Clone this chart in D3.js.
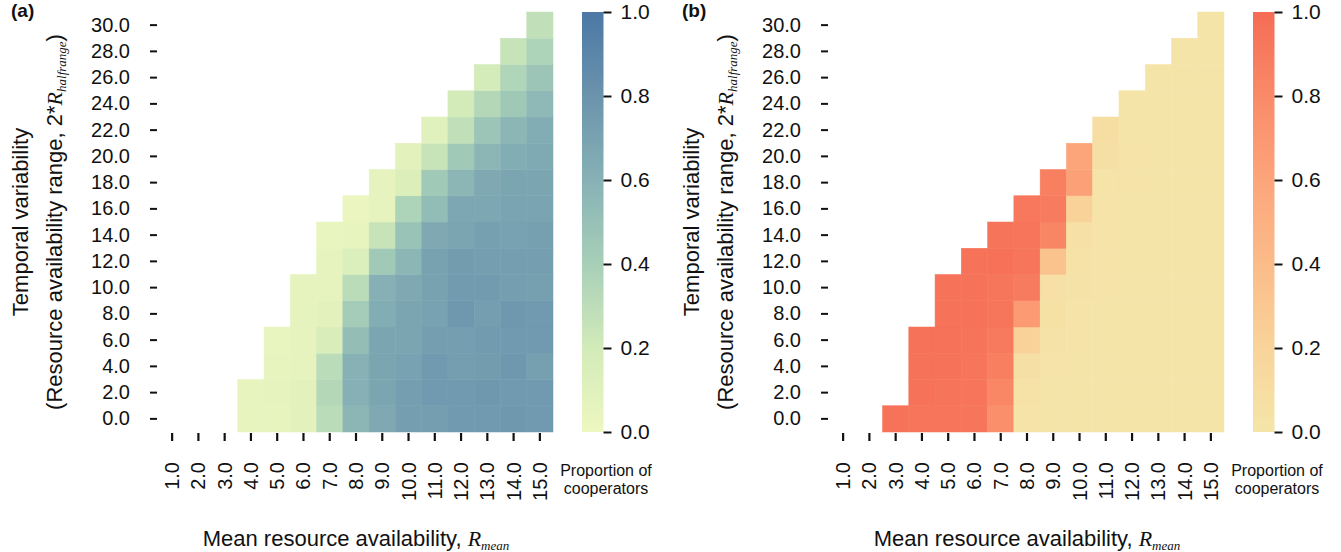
<!DOCTYPE html>
<html>
<head>
<meta charset="utf-8">
<script src="https://cdn.jsdelivr.net/npm/d3@7"></script>
<style>
  body { margin: 0; background: #fff; }
  text { font-family: "Liberation Sans", Arial, Helvetica, sans-serif; fill: #111; }
</style>
</head>
<body>
<svg id="fig" width="1341" height="552"></svg>
<script>
// tick labels
const xLabels = ["1.0","2.0","3.0","4.0","5.0","6.0","7.0","8.0","9.0","10.0","11.0","12.0","13.0","14.0","15.0"];
const yLabels = ["0.0","2.0","4.0","6.0","8.0","10.0","12.0","14.0","16.0","18.0","20.0","22.0","24.0","26.0","28.0","30.0"];
const cbTicks = [0, 0.2, 0.4, 0.6, 0.8, 1.0];

// proportion of cooperators, one array per R_mean column, values from 2*R_halfrange = 0 upward
const coopA = [
  [],
  [],
  [],
  [0.05, 0.05],
  [0.05, 0.06, 0.05, 0.04],
  [0.08, 0.08, 0.06, 0.06, 0.06, 0.06],
  [0.31, 0.34, 0.31, 0.16, 0.08, 0.06, 0.06, 0.04],
  [0.57, 0.61, 0.60, 0.52, 0.42, 0.31, 0.14, 0.05, 0.03],
  [0.66, 0.68, 0.68, 0.68, 0.63, 0.61, 0.44, 0.25, 0.06, 0.06],
  [0.73, 0.73, 0.71, 0.68, 0.68, 0.66, 0.57, 0.48, 0.37, 0.13, 0.08],
  [0.73, 0.76, 0.76, 0.73, 0.71, 0.70, 0.70, 0.66, 0.53, 0.44, 0.25, 0.10],
  [0.76, 0.76, 0.73, 0.73, 0.77, 0.75, 0.74, 0.68, 0.67, 0.57, 0.44, 0.28, 0.20],
  [0.76, 0.77, 0.74, 0.75, 0.73, 0.75, 0.73, 0.72, 0.67, 0.66, 0.57, 0.47, 0.34, 0.19],
  [0.77, 0.76, 0.77, 0.76, 0.77, 0.73, 0.73, 0.71, 0.69, 0.68, 0.63, 0.57, 0.45, 0.36, 0.25],
  [0.76, 0.76, 0.72, 0.76, 0.76, 0.72, 0.73, 0.72, 0.69, 0.68, 0.65, 0.63, 0.55, 0.47, 0.37, 0.28]
];

const coopB = [
  [],
  [],
  [0.96],
  [0.94, 0.96, 0.96, 0.96],
  [0.94, 0.95, 0.96, 0.96, 0.96, 0.96],
  [0.93, 0.94, 0.94, 0.95, 0.96, 0.96, 0.96],
  [0.76, 0.82, 0.87, 0.91, 0.93, 0.93, 0.97, 0.95],
  [0.02, 0.04, 0.07, 0.22, 0.68, 0.90, 0.94, 0.94, 0.92],
  [0.01, 0.01, 0.02, 0.03, 0.05, 0.06, 0.35, 0.83, 0.90, 0.87],
  [0.01, 0.01, 0.01, 0.02, 0.02, 0.03, 0.04, 0.06, 0.22, 0.63, 0.60],
  [0.01, 0.01, 0.01, 0.01, 0.01, 0.02, 0.02, 0.02, 0.02, 0.02, 0.07, 0.08],
  [0.01, 0.01, 0.01, 0.01, 0.01, 0.01, 0.01, 0.01, 0.01, 0.02, 0.02, 0.01, 0.01],
  [0.01, 0.01, 0.01, 0.01, 0.01, 0.01, 0.01, 0.01, 0.01, 0.01, 0.01, 0.01, 0.01, 0.01],
  [0.01, 0.01, 0.01, 0.01, 0.01, 0.01, 0.01, 0.01, 0.01, 0.01, 0.01, 0.01, 0.01, 0.01, 0.01],
  [0.01, 0.01, 0.01, 0.01, 0.01, 0.01, 0.01, 0.01, 0.01, 0.01, 0.01, 0.01, 0.01, 0.01, 0.01, 0.01]
];

// colour maps (colorbar stops at 0, .2, .4, .6, .8, 1)
const colorsA = ["#eef7c0", "#d2ebb9", "#a7cfb8", "#87b1b5", "#6b93ad", "#4b78a5"];
const colorsB = ["#f5e5a9", "#f8d49a", "#fbbc88", "#fca57a", "#f98a68", "#f56c55"];

const svg = d3.select("#fig");

function drawPanel(offset, data, colors, tag, id) {
  const g = svg.append("g").attr("transform", "translate(" + offset + ",0)");
  const color = d3.piecewise(d3.interpolateRgb, colors);

  const x = d3.scaleBand().domain(xLabels).range([159, 553]);
  const y = d3.scaleBand().domain(yLabels).range([432, 12]);

  // cells
  const cells = [];
  data.forEach(function(col, i) {
    col.forEach(function(v, j) { cells.push({x: xLabels[i], y: yLabels[j], v: v}); });
  });
  g.append("g").selectAll("rect")
    .data(cells)
    .enter()
    .append("rect")
      .attr("x", d => x(d.x))
      .attr("y", d => y(d.y))
      .attr("width", x.bandwidth())
      .attr("height", y.bandwidth())
      .attr("fill", d => color(d.v))
      .attr("stroke", d => color(d.v))
      .attr("stroke-width", 0.5);

  // y axis
  const ya = g.append("g").attr("transform", "translate(157,0)")
    .call(d3.axisLeft(y).tickSize(7).tickPadding(20));
  ya.select(".domain").remove();
  ya.selectAll("line").attr("stroke", "#111").attr("stroke-width", 2);
  ya.selectAll("text").attr("font-size", 20).attr("font-family", null);

  // x axis
  const xa = g.append("g").attr("transform", "translate(0,433)")
    .call(d3.axisBottom(x).tickSize(8));
  xa.select(".domain").remove();
  xa.selectAll("line").attr("stroke", "#111").attr("stroke-width", 2.2);
  xa.selectAll("text")
    .attr("font-size", 20).attr("font-family", null)
    .attr("transform", "rotate(-90)")
    .attr("x", -29).attr("y", 0).attr("dy", "0.35em")
    .attr("text-anchor", "end");

  // colorbar
  const grad = svg.append("defs").append("linearGradient")
    .attr("id", id).attr("x1", 0).attr("y1", 1).attr("x2", 0).attr("y2", 0);
  d3.range(0, 1.0001, 0.05).forEach(function(t) {
    grad.append("stop").attr("offset", t).attr("stop-color", color(t));
  });
  const cb = d3.scaleLinear().domain([0, 1]).range([432, 12]);
  g.append("rect").attr("x", 582).attr("y", 12).attr("width", 21.5).attr("height", 420)
    .attr("fill", "url(#" + id + ")");
  const ca = g.append("g").attr("transform", "translate(603.5,0)")
    .call(d3.axisRight(cb).tickValues(cbTicks).tickFormat(d3.format(".1f")).tickSize(8).tickPadding(9));
  ca.select(".domain").remove();
  ca.selectAll("line").attr("stroke", "#111").attr("stroke-width", 2);
  ca.selectAll("text").attr("font-size", 21).attr("font-family", null);

  g.append("text").attr("x", 606).attr("y", 476).attr("text-anchor", "middle")
    .attr("font-size", 16).text("Proportion of");
  g.append("text").attr("x", 606).attr("y", 494).attr("text-anchor", "middle")
    .attr("font-size", 16).text("cooperators");

  // axis titles
  g.append("text").attr("transform", "translate(28,222) rotate(-90)")
    .attr("text-anchor", "middle").attr("font-size", 22).text("Temporal variability");
  const yt = g.append("text").attr("transform", "translate(62,222) rotate(-90)")
    .attr("text-anchor", "middle").attr("font-size", 22);
  yt.append("tspan").text("(Resource availability range, 2*");
  yt.append("tspan").attr("font-family", "'Liberation Serif', 'Times New Roman', serif")
    .attr("font-style", "italic").text("R");
  yt.append("tspan").attr("font-family", "'Liberation Serif', 'Times New Roman', serif")
    .attr("font-style", "italic").attr("font-size", 13).attr("dy", 4).text("halfrange");
  yt.append("tspan").attr("dy", -4).text(")");

  const xt = g.append("text").attr("x", 356).attr("y", 546)
    .attr("text-anchor", "middle").attr("font-size", 22);
  xt.append("tspan").text("Mean resource availability, ");
  xt.append("tspan").attr("font-family", "'Liberation Serif', 'Times New Roman', serif")
    .attr("font-style", "italic").text("R");
  xt.append("tspan").attr("font-family", "'Liberation Serif', 'Times New Roman', serif")
    .attr("font-style", "italic").attr("font-size", 13).attr("dy", 4).text("mean");

  // panel tag
  g.append("text").attr("x", 11).attr("y", 17).attr("font-size", 19)
    .attr("font-weight", "bold").text(tag);
}

drawPanel(0, coopA, colorsA, "(a)", "gradA");
drawPanel(671, coopB, colorsB, "(b)", "gradB");
</script>
</body>
</html>
